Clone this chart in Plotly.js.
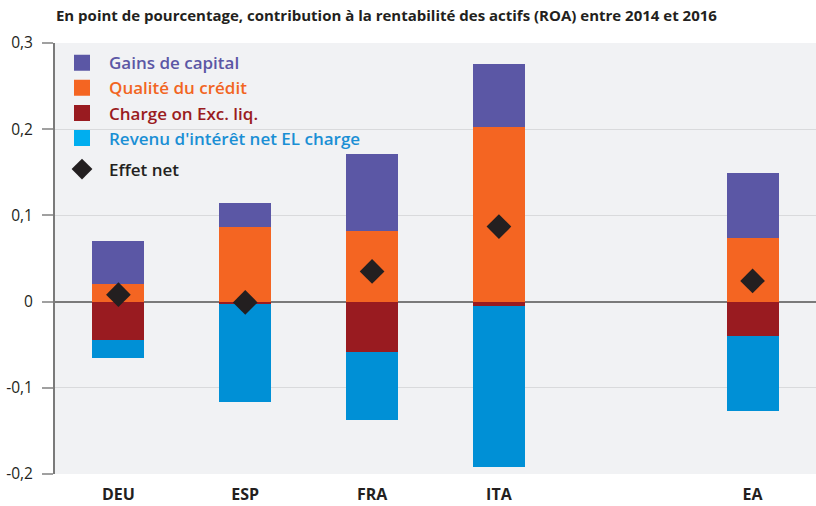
<!DOCTYPE html>
<html><head><meta charset="utf-8">
<script src="https://cdn.plot.ly/plotly-3.0.1.min.js"></script>
<style>html,body{margin:0;padding:0;background:#fff}#chart{width:816px;height:506px}</style>
</head><body><div id="chart"></div>
<script>
const categories = ['DEU','ESP','FRA','ITA','EA'];
const slots = ['DEU','ESP','FRA','ITA',' ','EA'];
const gainsCapital = [0.050, 0.028, 0.089, 0.073, 0.075];
const qualiteCredit = [0.020, 0.086, 0.082, 0.203, 0.074];
const chargeExcLiq = [-0.045, -0.003, -0.059, -0.005, -0.040];
const revenuInteret = [-0.020, -0.113, -0.078, -0.187, -0.087];
const effetNet = [0.008, -0.001, 0.035, 0.087, 0.024];
const yTickVals = [-0.2, -0.1, 0, 0.1, 0.2, 0.3];
const yTickText = ['-0,2', '-0,1', '0', '0,1', '0,2', '0,3'];

const FONT = '"Open Sans", sans-serif';
function lbl(t, c){ return '<span style="color:' + c + '">' + t + '</span>'; }

const series = [
  {name:'Gains de capital', y:gainsCapital, bar:'#5b57a5', sw:'#5b57a5', txt:'#5b57a5', rank:1},
  {name:'Qualité du crédit', y:qualiteCredit, bar:'#f46522', sw:'#f46522', txt:'#f26522', rank:2},
  {name:'Charge on Exc. liq.', y:chargeExcLiq, bar:'#991b20', sw:'#991b20', txt:'#9a1b20', rank:3},
  {name:"Revenu d'intérêt net EL charge", y:revenuInteret, bar:'#0090d6', sw:'#00aeef', txt:'#1a8fd4', rank:4}
];
// stacking order: credit quality first on the positive side, then capital gains
const stackOrder = [1, 0, 2, 3];
const traces = [];
stackOrder.forEach(i => {
  const s = series[i];
  traces.push({type:'bar', x:categories, y:s.y, name:s.name, marker:{color:s.bar}, width:0.41, showlegend:false, hoverinfo:'skip'});
});
series.forEach(s => {
  traces.push({type:'scatter', mode:'markers', x:[null], y:[null], name:lbl(s.name, s.txt),
    marker:{symbol:'square', size:16, color:s.sw}, legendrank:s.rank, legendgroup:'a'});
});
traces.push({type:'scatter', mode:'markers', x:categories, y:effetNet, name:lbl('Effet net','#231f20'),
  marker:{symbol:'diamond', size:19, color:'#231f20'}, legendrank:5, legendgroup:'b'});

const layout = {
  width:816, height:506,
  margin:{l:55, r:0, t:43, b:32},
  paper_bgcolor:'#ffffff', plot_bgcolor:'#f1f2f4',
  barmode:'relative', bargap:0,
  font:{family:FONT, size:16, color:'#231f20'},
  title:{text:'<b>En point de pourcentage, contribution à la rentabilité des actifs (ROA) entre 2014 et 2016</b>',
         x:0.0686, xref:'container', xanchor:'left', y:0.98, yanchor:'top',
         font:{family:FONT, size:15, color:'#231f20'}},
  showlegend:true,
  legend:{x:0.0, y:0.995, xanchor:'left', yanchor:'top', bgcolor:'rgba(0,0,0,0)',
          font:{family:FONT, size:17, weight:600}, tracegroupgap:6, traceorder:'grouped', itemwidth:44},
  xaxis:{type:'category', categoryorder:'array', categoryarray:slots, range:[-0.5,5.5],
         showgrid:false, zeroline:false, showline:false, ticks:'',
         tickfont:{family:FONT, size:16, weight:700, color:'#231f20'}, ticklabelstandoff:9},
  yaxis:{range:[-0.2,0.3], tickvals:yTickVals, ticktext:yTickText,
         showgrid:true, gridcolor:'#d9dadc', gridwidth:1,
         zeroline:true, zerolinecolor:'#7a7a7a', zerolinewidth:2,
         showline:true, linecolor:'#7a7a7a', linewidth:2,
         ticks:'outside', ticklen:11, tickcolor:'#a0a0a0', tickwidth:2,
         tickfont:{family:FONT, size:15.5, color:'#231f20'}, ticklabelstandoff:6}
};

Plotly.newPlot('chart', traces, layout, {displayModeBar:false, staticPlot:true});
</script></body></html>
